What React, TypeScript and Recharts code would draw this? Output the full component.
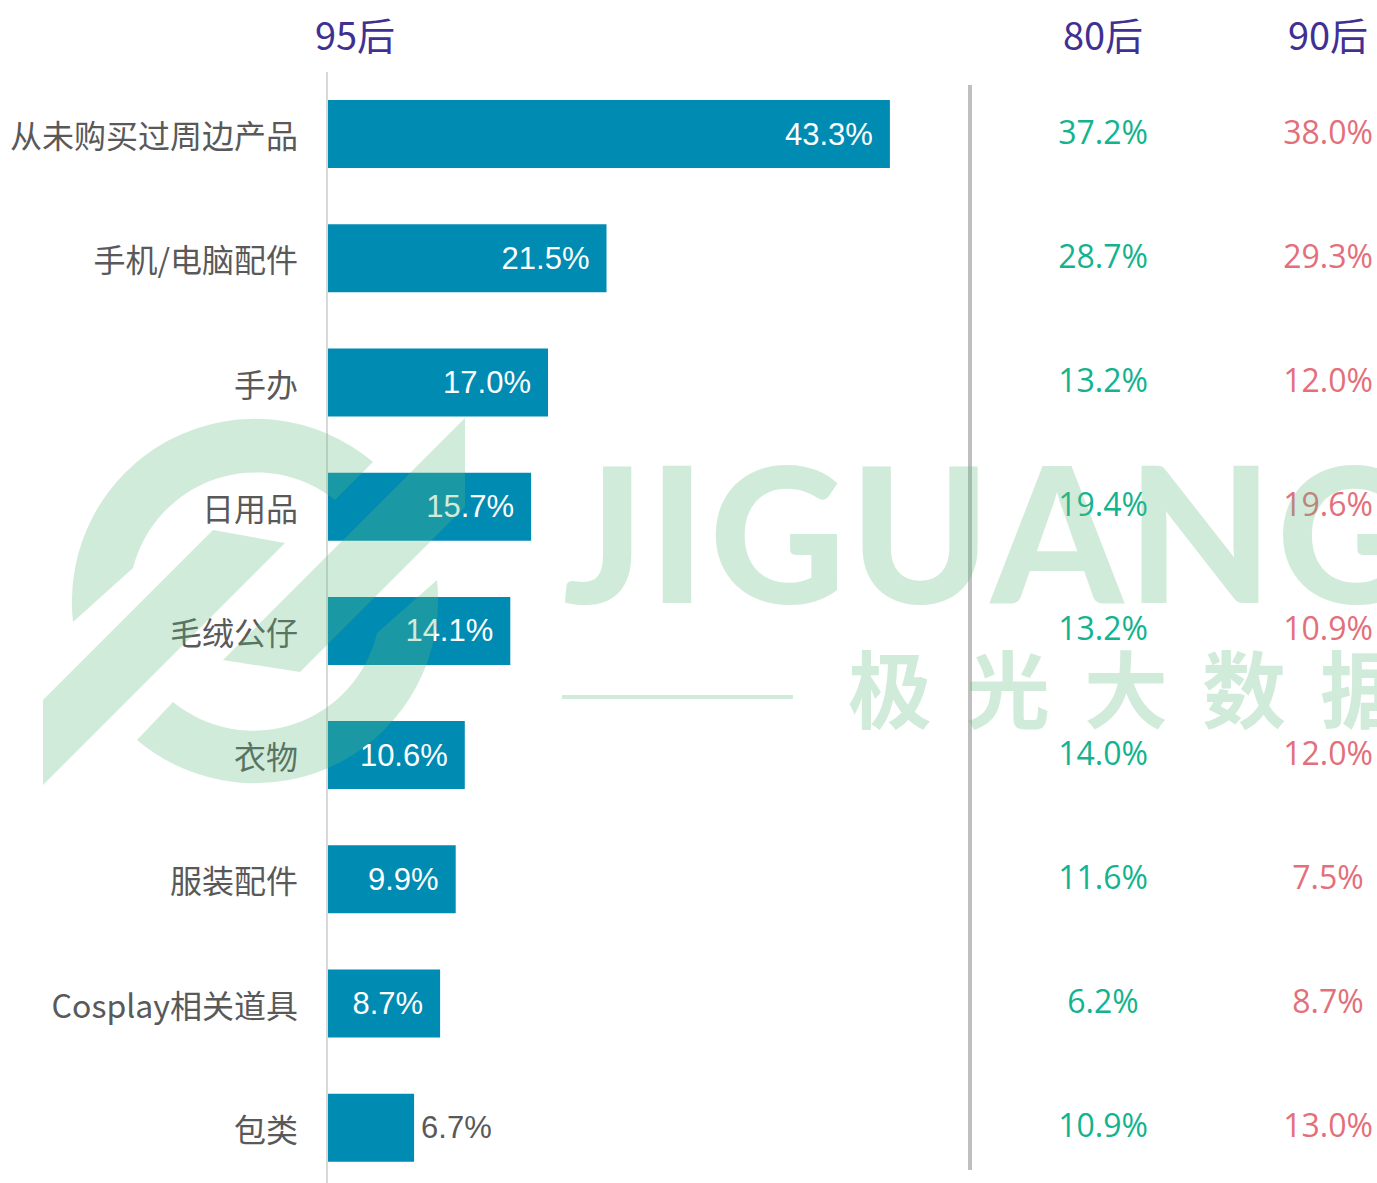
import React from 'react';
import { BarChart, Bar, XAxis, YAxis, LabelList } from 'recharts';

const categories = [
  '从未购买过周边产品',
  '手机/电脑配件',
  '手办',
  '日用品',
  '毛绒公仔',
  '衣物',
  '服装配件',
  'Cosplay相关道具',
  '包类',
];
const after95 = [43.3, 21.5, 17.0, 15.7, 14.1, 10.6, 9.9, 8.7, 6.7];
const after80 = [37.2, 28.7, 13.2, 19.4, 13.2, 14.0, 11.6, 6.2, 10.9];
const after90 = [38.0, 29.3, 12.0, 19.6, 10.9, 12.0, 7.5, 8.7, 13.0];
const groups = ['95后', '80后', '90后'];

const BAR = '#008bb3';
const GREY = '#595959';
const GREEN = '#13b38f';
const PINK = '#e36f7b';
const PURPLE = '#3f3092';
const CJK = '"Noto Sans CJK SC", "Noto Sans", sans-serif';
const NUM = '"Open Sans", "Noto Sans", sans-serif';

const rows = categories.map((name, i) => ({
  name,
  v95: after95[i],
  v80: after80[i],
  v90: after90[i],
}));

const pct = (v: number) => `${Number(v).toFixed(1)}%`;

function InnerLabel(props: any) {
  const { x, y, width, height, value } = props;
  const cy = y + height / 2;
  const inside = value >= 8;
  return (
    <text
      x={inside ? x + width - 17 : x + width + 7}
      y={cy}
      textAnchor={inside ? 'end' : 'start'}
      dominantBaseline="central"
      fill={inside ? '#fff' : GREY}
      fontSize={31}
      fontFamily='"Liberation Sans", Arial, sans-serif'
    >
      {pct(value)}
    </text>
  );
}

const columnLabel = (cx: number, color: string) => (props: any) => {
  const { y, height, value } = props;
  return (
    <text
      x={cx}
      y={y + height / 2 - 3}
      textAnchor="middle"
      dominantBaseline="central"
      fill={color}
      fontSize={32}
      fontFamily={NUM}
    >
      {pct(value)}
    </text>
  );
};

function CatTick(props: any) {
  const { x, y, payload } = props;
  return (
    <text
      x={x}
      y={y}
      textAnchor="end"
      dominantBaseline="central"
      fill={GREY}
      fontSize={32}
      fontFamily={CJK}
    >
      {payload.value}
    </text>
  );
}

export default function App() {
  return (
    <div style={{ position: 'absolute', left: 0, top: 0, width: 1377, height: 1183, overflow: 'hidden', background: '#fff' }}>
      <BarChart
        width={1377}
        height={1200}
        data={rows}
        layout="vertical"
        margin={{ top: 72, right: 400, bottom: 10, left: 0 }}
        barCategoryGap={0}
      >
        <XAxis type="number" domain={[0, 50]} hide />
        <YAxis
          type="category"
          dataKey="name"
          width={327}
          axisLine={{ stroke: '#d9d9d9', strokeWidth: 2 }}
          tickLine={false}
          tickSize={0}
          tickMargin={29}
          tick={<CatTick />}
          interval={0}
        />
        <Bar dataKey="v95" fill={BAR} barSize={68} isAnimationActive={false}>
          <LabelList dataKey="v95" content={<InnerLabel />} />
          <LabelList dataKey="v80" content={columnLabel(1103, GREEN)} />
          <LabelList dataKey="v90" content={columnLabel(1328, PINK)} />
        </Bar>
      </BarChart>

      <svg width={1377} height={1183} style={{ position: 'absolute', left: 0, top: 0, pointerEvents: 'none' }}>
        <line x1={970} x2={970} y1={85} y2={1170} stroke="#bfbfbf" strokeWidth={4} />
        {groups.map((g, i) => (
          <text
            key={g}
            x={[355, 1103, 1328][i]}
            y={33}
            textAnchor="middle"
            dominantBaseline="central"
            fill={PURPLE}
            fontSize={38}
            fontFamily={CJK}
          >
            {g}
          </text>
        ))}
      </svg>

      {/* watermark */}
      <svg width={1377} height={1183} style={{ position: 'absolute', left: 0, top: 0, pointerEvents: 'none', opacity: 0.28 }}>
        <g fill="#5eba7c">
          <path d="M73 622 A183 183 0 0 1 373 462 L335 500 A127 127 0 0 0 133 568 Z" />
          <path d="M137 740 A183 183 0 0 0 437 580 L377 633 A127 127 0 0 1 173 702 Z" />
          <path d="M43 700 L213 530 L285 543 L43 785 Z" />
          <path d="M223 660 L465 418 L465 507 L300 672 Z" />
          <text x={563} y={603} fontSize={188} fontWeight={900} fontFamily="Lato, sans-serif" textLength={850} lengthAdjust="spacing">
            JIGUANG
          </text>
          <rect x={562} y={695} width={231} height={4} />
          <text x={848} y={722} fontSize={84} fontWeight={700} fontFamily={CJK} letterSpacing={34}>
            极光大数据
          </text>
        </g>
      </svg>
    </div>
  );
}
